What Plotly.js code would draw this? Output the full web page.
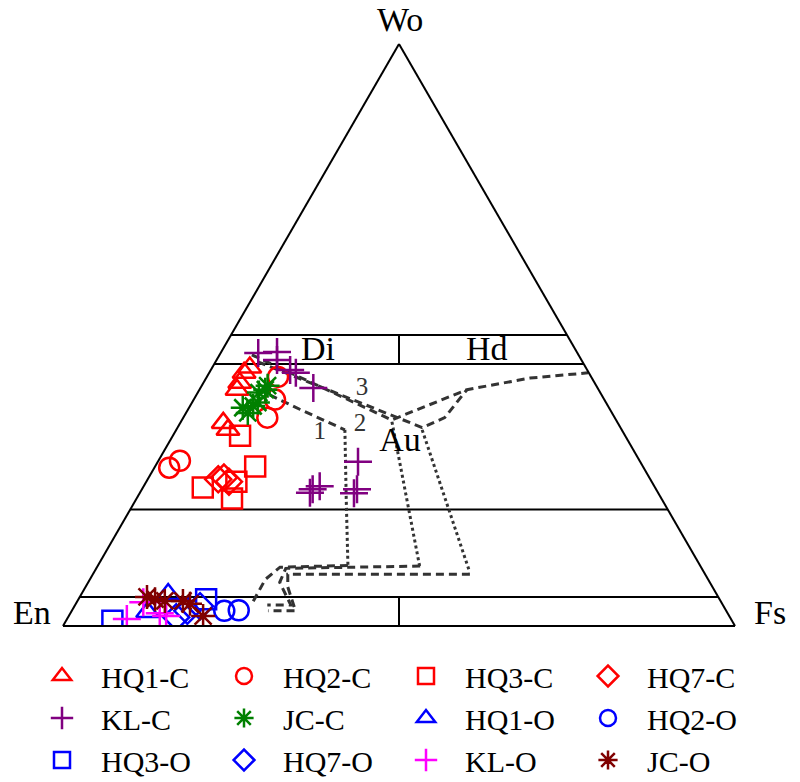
<!DOCTYPE html>
<html>
<head>
<meta charset="utf-8">
<script src="https://cdn.plot.ly/plotly-3.0.1.min.js"></script>
<style>html,body{margin:0;padding:0;background:#fff;}#chart{width:800px;height:782px;}</style>
</head>
<body>
<div id="chart"></div>
<script>
// Series data: [Wo, En, Fs] in percent
const seriesNames = ["HQ1-C","HQ2-C","HQ3-C","HQ7-C","KL-C","JC-C","HQ1-O","HQ2-O","HQ3-O","HQ7-O","KL-O","JC-O"];

const HQ1_C_Wo = [44.4, 43.5, 41.8, 40.6, 34.9, 33.7];
const HQ1_C_En = [50.0, 51.3, 52.8, 53.8, 58.7, 58.6];
const HQ1_C_Fs = [5.6, 5.2, 5.4, 5.6, 6.4, 7.7];

const HQ2_C_Wo = [42.8, 38.9, 35.8, 28.4, 27.2];
const HQ2_C_En = [46.6, 49.0, 51.7, 68.4, 70.6];
const HQ2_C_Fs = [10.6, 12.1, 12.5, 3.2, 2.2];

const HQ3_C_Wo = [32.7, 27.4, 23.8, 21.9, 24.8];
const HQ3_C_En = [57.3, 57.7, 67.3, 63.9, 61.8];
const HQ3_C_Fs = [10.0, 14.9, 8.9, 14.2, 13.4];

const HQ7_C_Wo = [25.2, 25.5, 24.8];
const HQ7_C_En = [64.3, 63.3, 62.9];
const HQ7_C_Fs = [10.5, 11.2, 12.3];

const KL_C_Wo = [46.9, 47.1, 45.7, 44.0, 43.5, 40.9, 28.2, 23.5, 22.8, 23.5, 22.9, 24.0];
const KL_C_En = [47.5, 44.6, 45.3, 44.2, 43.6, 42.3, 42.0, 44.5, 45.3, 51.1, 51.8, 49.8];
const KL_C_Fs = [5.6, 8.3, 9.0, 11.8, 12.9, 16.8, 29.8, 32.0, 31.9, 25.4, 25.3, 26.2];

const JC_C_Wo = [40.6, 40.1, 41.3, 37.5, 37.8, 38.4, 36.6];
const JC_C_En = [49.6, 50.8, 48.9, 54.5, 52.8, 51.8, 54.2];
const JC_C_Fs = [9.8, 9.1, 9.8, 8.0, 9.4, 9.8, 9.2];

const HQ1_O_Wo = [5.5, 2.4];
const HQ1_O_En = [81.6, 86.2];
const HQ1_O_Fs = [12.9, 11.4];

const HQ2_O_Wo = [2.6, 2.7];
const HQ2_O_En = [74.7, 72.5];
const HQ2_O_Fs = [22.7, 24.8];

const HQ3_O_Wo = [0.9, 4.6];
const HQ3_O_En = [92.2, 76.4];
const HQ3_O_Fs = [6.9, 19.0];

const HQ7_O_Wo = [2.6, 1.5, 3.4];
const HQ7_O_En = [80.2, 82.4, 77.9];
const HQ7_O_Fs = [17.2, 16.1, 18.7];

const KL_O_Wo = [1.2, 4.1, 2.2, 1.7];
const KL_O_En = [89.9, 86.0, 84.5, 83.8];
const KL_O_Fs = [8.9, 9.9, 13.3, 14.5];

const JC_O_Wo = [5.0, 4.6, 4.3, 4.3, 3.8, 1.7];
const JC_O_En = [85.0, 84.0, 82.7, 80.0, 79.2, 78.3];
const JC_O_Fs = [10.0, 11.4, 13.0, 15.7, 17.0, 20.0];

// Classification grid (Wo levels) and field labels
const woGridLevels = [5, 20, 45, 50];
const fieldLabels = ["Di", "Hd", "Au", "1", "2", "3"];
const fieldLabelWo = [47.1, 47.1, 31.5, 33.2, 34.6, 40.8];
const fieldLabelEn = [38.5, 13.4, 34.1, 45.2, 38.5, 35.1];
const fieldLabelFs = [14.4, 39.5, 34.4, 21.6, 26.9, 24.1];

// Boundary curves [Wo, En, Fs]
const line1Wo = [39.7, 37.2, 33.7]; const line1En = [49.4, 46.1, 41.2]; const line1Fs = [10.9, 16.7, 25.1];
const line1vWo = [33.7, 21.7, 10.4]; const line1vEn = [41.2, 47.0, 52.4]; const line1vFs = [25.1, 31.3, 37.2];
const line1bWo = [10.4, 10.1, 8.0, 3.8]; const line1bEn = [52.4, 62.65, 65.9, 70.0]; const line1bFs = [37.2, 27.25, 26.1, 26.2];

const line3Wo = [46.6, 35.4, 40.6, 42.6, 43.5]; const line3En = [48.6, 33.4, 19.6, 9.2, 0.1]; const line3Fs = [4.8, 31.2, 39.8, 48.2, 56.4];
const line2Wo = [45.4, 34.1, 35.8, 40.6]; const line2En = [48.3, 29.5, 25.3, 19.6]; const line2Fs = [6.3, 36.4, 38.9, 39.8];

const line2vWo = [35.1, 10.1]; const line2vEn = [33.5, 41.85]; const line2vFs = [31.4, 48.05];
const line3vWo = [33.7, 9.25]; const line3vEn = [29.7, 34.85]; const line3vFs = [36.6, 55.9];

const line2bWo = [10.3, 9.9, 7.5, 3.6, 3.6]; const line2bEn = [41.7, 61.9, 64.0, 64.3, 67.8]; const line2bFs = [48.0, 28.2, 28.5, 32.1, 28.6];
const line3bWo = [8.9, 8.9, 6.7, 2.6, 2.6]; const line3bEn = [35.0, 62.1, 63.2, 64.1, 68.2]; const line3bFs = [56.1, 29.0, 30.1, 33.3, 29.2];

const dividerTopWo = [45, 50]; const dividerTopEn = [27.5, 25]; const dividerTopFs = [27.5, 25];
const dividerBotWo = [0, 5]; const dividerBotEn = [50, 47.5]; const dividerBotFs = [50, 47.5];

const serif = "Liberation Serif, Times New Roman, serif";

function pts(name, a, b, c, symbol, color) {
  return {
    type: "scatterternary", mode: "markers", name: name,
    a: a, b: b, c: c,
    marker: {symbol: symbol, size: 20, color: color, line: {color: color, width: 2.5}},
    hoverinfo: "skip"
  };
}
function ln(a, b, c, dash, color, width) {
  return {
    type: "scatterternary", mode: "lines", showlegend: false,
    a: a, b: b, c: c,
    line: {color: color || "#333333", width: width || 3, dash: dash},
    hoverinfo: "skip"
  };
}
const DASH = "8px,5px", DOT = "3px,3px";

const traces = [
  ln(dividerTopWo, dividerTopEn, dividerTopFs, "solid", "#000000", 2),
  ln(dividerBotWo, dividerBotEn, dividerBotFs, "solid", "#000000", 2),
  ln(line1Wo, line1En, line1Fs, DASH),
  ln(line1vWo, line1vEn, line1vFs, DOT),
  ln(line1bWo, line1bEn, line1bFs, DASH),
  ln(line3Wo, line3En, line3Fs, DASH),
  ln(line2Wo, line2En, line2Fs, DASH),
  ln(line2vWo, line2vEn, line2vFs, DOT),
  ln(line3vWo, line3vEn, line3vFs, DOT),
  ln(line2bWo, line2bEn, line2bFs, DASH),
  ln(line3bWo, line3bEn, line3bFs, DASH),
  {
    type: "scatterternary", mode: "text", showlegend: false,
    a: fieldLabelWo, b: fieldLabelEn, c: fieldLabelFs,
    text: fieldLabels, textposition: "middle center", cliponaxis: false,
    textfont: {family: serif, size: [34, 34, 34, 25, 25, 25], color: ["#000", "#000", "#000", "#333", "#333", "#333"]},
    hoverinfo: "skip"
  },
  pts(seriesNames[0], HQ1_C_Wo, HQ1_C_En, HQ1_C_Fs, "triangle-up-open", "#ff0000"),
  pts(seriesNames[1], HQ2_C_Wo, HQ2_C_En, HQ2_C_Fs, "circle-open", "#ff0000"),
  pts(seriesNames[2], HQ3_C_Wo, HQ3_C_En, HQ3_C_Fs, "square-open", "#ff0000"),
  pts(seriesNames[3], HQ7_C_Wo, HQ7_C_En, HQ7_C_Fs, "diamond-open", "#ff0000"),
  pts(seriesNames[4], KL_C_Wo, KL_C_En, KL_C_Fs, "cross-thin-open", "#800080"),
  pts(seriesNames[5], JC_C_Wo, JC_C_En, JC_C_Fs, "asterisk-open", "#008000"),
  pts(seriesNames[6], HQ1_O_Wo, HQ1_O_En, HQ1_O_Fs, "triangle-up-open", "#0000ff"),
  pts(seriesNames[7], HQ2_O_Wo, HQ2_O_En, HQ2_O_Fs, "circle-open", "#0000ff"),
  pts(seriesNames[8], HQ3_O_Wo, HQ3_O_En, HQ3_O_Fs, "square-open", "#0000ff"),
  pts(seriesNames[9], HQ7_O_Wo, HQ7_O_En, HQ7_O_Fs, "diamond-open", "#0000ff"),
  pts(seriesNames[10], KL_O_Wo, KL_O_En, KL_O_Fs, "cross-thin-open", "#ff00ff"),
  pts(seriesNames[11], JC_O_Wo, JC_O_En, JC_O_Fs, "asterisk-open", "#800000")
];

const axisBase = {
  showline: true, linecolor: "#000000", linewidth: 2,
  showticklabels: false, ticks: "", showgrid: false, title: {text: ""}
};

const layout = {
  width: 800, height: 782,
  margin: {l: 0, r: 0, t: 0, b: 0, autoexpand: false},
  paper_bgcolor: "#ffffff",
  font: {family: serif, color: "#000000"},
  showlegend: true,
  ternary: {
    domain: {x: [63 / 800, 735 / 800], y: [156 / 782, 738 / 782]},
    sum: 100,
    bgcolor: "#ffffff",
    aaxis: Object.assign({}, axisBase, {
      tickmode: "array", tickvals: woGridLevels,
      showgrid: true, gridcolor: "#000000", gridwidth: 2, layer: "above traces"
    }),
    baxis: Object.assign({}, axisBase),
    caxis: Object.assign({}, axisBase)
  },
  legend: {
    orientation: "h",
    x: 23 / 800, xanchor: "left",
    y: (782 - 650) / 782, yanchor: "top",
    entrywidth: 99, entrywidthmode: "pixels",
    itemwidth: 68,
    font: {family: serif, size: 30, color: "#000000"},
    bgcolor: "rgba(0,0,0,0)"
  },
  annotations: [
    {text: "Wo", xref: "paper", yref: "paper", x: 0.5, y: 762 / 782, xanchor: "center", yanchor: "middle", showarrow: false, font: {family: serif, size: 34}},
    {text: "En", xref: "paper", yref: "paper", x: 32 / 800, y: 170 / 782, xanchor: "center", yanchor: "middle", showarrow: false, font: {family: serif, size: 34}},
    {text: "Fs", xref: "paper", yref: "paper", x: 770 / 800, y: 170 / 782, xanchor: "center", yanchor: "middle", showarrow: false, font: {family: serif, size: 34}}
  ]
};

Plotly.newPlot("chart", traces, layout, {displayModeBar: false, staticPlot: true});
</script>
</body>
</html>
